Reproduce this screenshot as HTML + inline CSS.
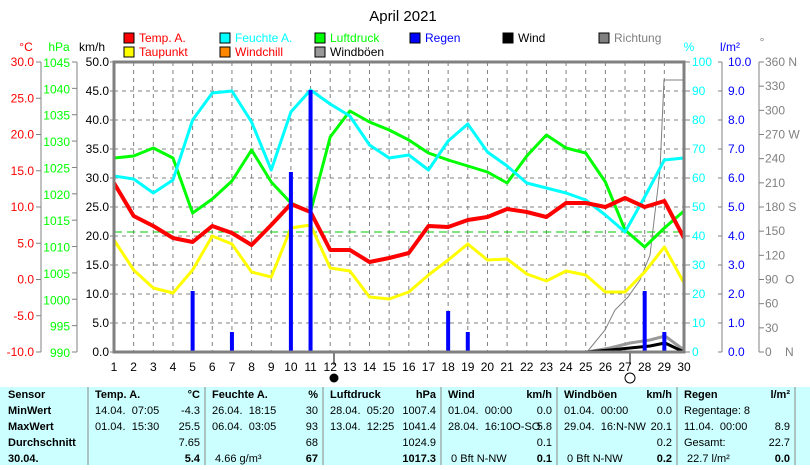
<!DOCTYPE html><html><head><meta charset="utf-8"><style>
body{margin:0;background:#fff;width:810px;height:465px;overflow:hidden;font-family:"Liberation Sans",sans-serif}
</style></head><body>
<svg id="s" width="810" height="465" xmlns="http://www.w3.org/2000/svg" font-family="Liberation Sans, sans-serif" font-size="12"></svg>
<script>
const s=document.getElementById('s');let h='';
const X=d=>114+(d-1)*19.655;
h+='<text x="403" y="21" font-size="15" text-anchor="middle">April 2021</text>';
const L=[[124,38,'#f00','Temp. A.','#f00'],[220,38,'#0ff','Feuchte A.','#0ff'],[315,38,'#0f0','Luftdruck','#0f0'],[410,38,'#00f','Regen','#00f'],[503,38,'#000','Wind','#000'],[599,38,'#808080','Richtung','#808080'],[124,52,'#ff0','Taupunkt','#f00'],[220,52,'#f80','Windchill','#f00'],[315,52,'#999','Windböen','#000']];
L.forEach(l=>{h+=`<rect x="${l[0]}" y="${l[1]-5}" width="10" height="10" fill="${l[2]}" stroke="#000"/><text x="${l[0]+15}" y="${l[1]+4}" fill="${l[4]}">${l[3]}</text>`});
h+='<text x="26" y="51" fill="#f00" text-anchor="middle">°C</text><text x="59" y="51" fill="#0f0" text-anchor="middle">hPa</text><text x="92" y="51" text-anchor="middle">km/h</text>';
h+='<text x="689" y="51" fill="#0ff" text-anchor="middle">%</text><text x="730" y="51" fill="#00f" text-anchor="middle">l/m²</text><text x="762" y="46" fill="#808080" text-anchor="middle">°</text>';
for(let d=2;d<30;d++)h+=`<line x1="${X(d)}" y1="62" x2="${X(d)}" y2="352" stroke="#808080" stroke-dasharray="4,4"/>`;
for(let i=1;i<10;i++){let y=62+i*29;h+=`<line x1="114" y1="${y}" x2="684" y2="${y}" stroke="#808080" stroke-dasharray="4,4"/>`;}
h+='<line x1="41" y1="62" x2="41" y2="352" stroke="#808080"/><line x1="77" y1="62" x2="77" y2="352" stroke="#808080"/>';
for(let i=0;i<=8;i++){let y=62+i*36.25;h+=`<line x1="36" y1="${y}" x2="41" y2="${y}" stroke="#808080"/><text x="34" y="${y+4}" fill="#f00" text-anchor="end">${(30-5*i).toFixed(1)}</text>`;}
for(let i=0;i<=11;i++){let y=62+i*290/11;h+=`<line x1="72" y1="${y}" x2="77" y2="${y}" stroke="#808080"/><text x="70" y="${y+5}" fill="#0f0" text-anchor="end">${1045-5*i}</text>`;}
for(let i=0;i<=10;i++){let y=62+i*29;h+=`<line x1="110" y1="${y}" x2="114" y2="${y}" stroke="#808080"/><text x="109" y="${y+4}" text-anchor="end">${(50-5*i).toFixed(1)}</text>`;}
h+='<line x1="722" y1="62" x2="722" y2="352" stroke="#808080"/><line x1="759" y1="62" x2="759" y2="352" stroke="#808080"/>';
for(let i=0;i<=10;i++){let y=62+i*29;h+=`<line x1="684" y1="${y}" x2="690" y2="${y}" stroke="#808080"/><text x="692" y="${y+4}" fill="#0ff">${100-10*i}</text><line x1="718" y1="${y}" x2="722" y2="${y}" stroke="#808080"/><text x="728" y="${y+4}" fill="#00f">${(10-i).toFixed(1)}</text>`;}
const dl={0:'360 N',3:'270 W',6:'180 S',9:'90  O',12:'0    N'};
for(let i=0;i<=12;i++){let y=62+i*290/12;h+=`<line x1="759" y1="${y}" x2="764" y2="${y}" stroke="#808080"/><text x="765" y="${y+4}" fill="#808080" xml:space="preserve">${dl[i]||(360-30*i)}</text>`;}
for(let d=1;d<=30;d++)h+=`<text x="${X(d)}" y="371" text-anchor="middle">${d}</text>`;
h+='<line x1="334" y1="352" x2="334" y2="365" stroke="#000"/><circle cx="334" cy="378" r="4.5" fill="#000"/><line x1="630" y1="352" x2="630" y2="365" stroke="#000"/><circle cx="630" cy="378" r="5" fill="#fff" stroke="#000"/>';
const P=(a,c,w)=>{h+=`<polyline fill="none" stroke="${c}" stroke-width="${w}" stroke-linejoin="round" points="${a.map((y,i)=>X(i+1)+','+y).join(' ')}"/>`};
h+='<polyline fill="none" stroke="#808080" points="587,352 605,330 615,310 628,297 640,280 650,255 660,170 664,80 684,80"/>';
h+='<polyline fill="none" stroke="#999" stroke-width="3" points="587,352 610,348 630,343 650,340 665,336 684,350"/>';
h+='<polyline fill="none" stroke="#000" stroke-width="3" points="587,352 610,350 630,348 650,346 665,343 684,352"/>';
h+='<line x1="114" y1="232" x2="684" y2="232" stroke="#0c0" stroke-dasharray="8,5"/>';
P([158,156,148,158,213,199,181,150,182,203,212,137,111,122,130,140,153,160,166,172,183,156,135,148,153,182,230,247,228,211],'#0f0',3);
P([176,179,193,180,120,93,91,122,170,112,90,104,116,145,158,155,170,141,124,152,166,183,188,193,200,215,232,197,160,158],'#0ff',3);
P([240,270,288,293,270,236,244,272,277,228,225,268,271,297,299,292,275,260,244,260,259,274,281,271,275,292,292,272,247,283],'#ff0',3);
P([183,216,226,238,242,226,233,245,225,204,212,250,250,262,258,253,226,227,220,217,209,212,217,203,203,207,198,207,201,238],'#f00',4);
[[5,291],[7,332],[10,172],[11,90],[18,311],[19,332],[28,291],[29,332]].forEach(r=>{h+=`<rect x="${X(r[0])-2}" y="${r[1]}" width="4" height="${352-r[1]}" fill="#00f"/>`});
h+='<rect x="114" y="62" width="570" height="290" fill="none" stroke="#808080" stroke-width="3"/>';
h+='<rect x="0" y="387" width="810" height="78" fill="#ccffff"/>';
[88,205,323,441,557,677,795].forEach(x=>{h+=`<line x1="${x}" y1="387" x2="${x}" y2="465" stroke="#888"/>`});
const R=[398,414,430,446,462];
const c=(x,y,t,a,b)=>{h+=`<text x="${x}" y="${y}" font-size="11" ${a?'text-anchor="end"':''} ${b?'font-weight="bold"':''} xml:space="preserve">${t}</text>`};
['Sensor','MinWert','MaxWert','Durchschnitt','30.04.'].forEach((t,i)=>c(8,R[i],t,0,1));
const cols=[[95,200,'Temp. A.','°C',['14.04.  07:05','-4.3'],['01.04.  15:30','25.5'],['','7.65'],['','5.4']],
[212,318,'Feuchte A.','%',['26.04.  18:15','30'],['06.04.  03:05','93'],['','68'],[' 4.66 g/m³','67']],
[330,436,'Luftdruck','hPa',['28.04.  05:20','1007.4'],['13.04.  12:25','1041.4'],['','1024.9'],['','1017.3']],
[448,552,'Wind','km/h',['01.04.  00:00','0.0'],['28.04.  16:10O-SO','5.8'],['','0.1'],[' 0 Bft N-NW','0.1']],
[564,672,'Windböen','km/h',['01.04.  00:00','0.0'],['29.04.  16:N-NW','20.1'],['','0.2'],[' 0 Bft N-NW','0.2']],
[684,790,'Regen','l/m²',['Regentage: 8',''],['11.04.  00:00','8.9'],['Gesamt:','22.7'],[' 22.7 l/m²','0.0']]];
cols.forEach(k=>{c(k[0],R[0],k[2],0,1);c(k[1],R[0],k[3],1,1);for(let i=0;i<4;i++){c(k[0],R[i+1],k[4+i][0]);c(k[1],R[i+1],k[4+i][1],1,i==3);}});
s.innerHTML=h;
</script></body></html>
